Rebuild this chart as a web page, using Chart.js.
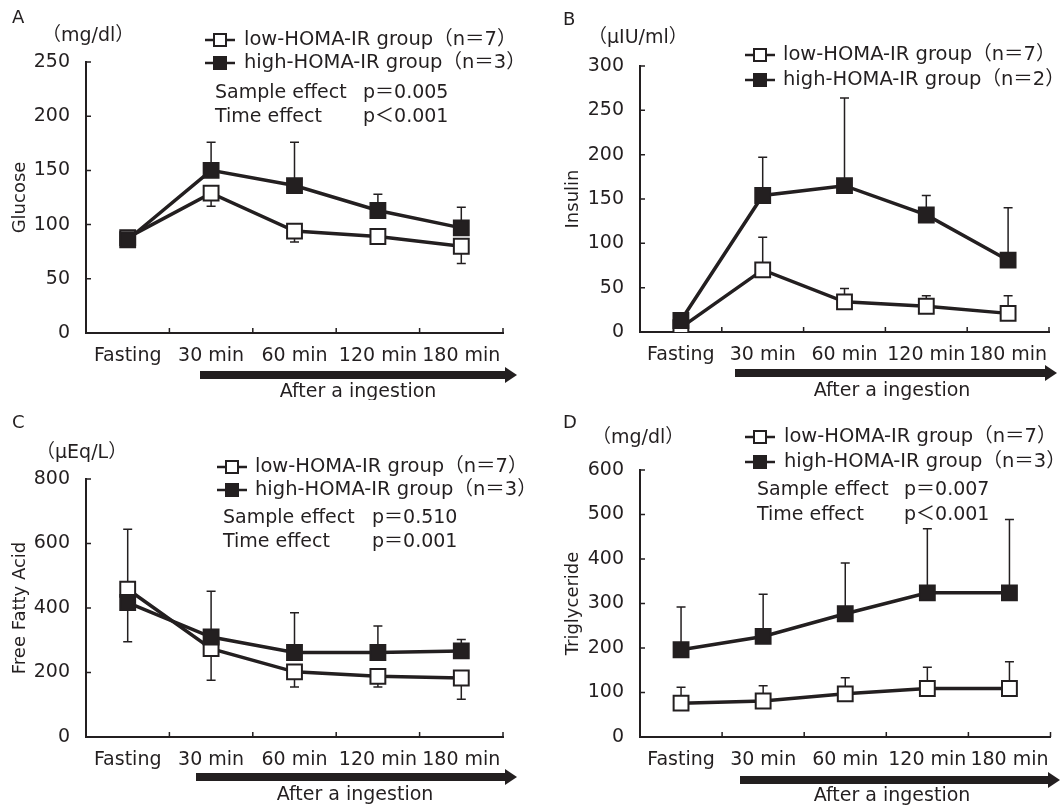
<!DOCTYPE html>
<html>
<head>
<meta charset="utf-8">
<script src="https://cdn.jsdelivr.net/npm/chart.js@4.4.1/dist/chart.umd.min.js"></script>
<style>
  body { margin: 0; background: #fff; width: 1063px; height: 807px; position: relative; overflow: hidden; }
  .panel { position: absolute; }
</style>
</head>
<body>
<div class="panel" style="left:0;top:0"><canvas id="chartA" width="530" height="400"></canvas></div>
<div class="panel" style="left:530px;top:0"><canvas id="chartB" width="533" height="400"></canvas></div>
<div class="panel" style="left:0;top:400px"><canvas id="chartC" width="530" height="407"></canvas></div>
<div class="panel" style="left:530px;top:400px"><canvas id="chartD" width="533" height="407"></canvas></div>
<script>
const timeLabels = ['Fasting', '30 min', '60 min', '120 min', '180 min'];

// A: glucose (mg/dl)
const glucoseTicks = [0, 50, 100, 150, 200, 250];
const glucoseLow = [88, 129, 94, 89, 80];
const glucoseLowErr = [-2, -12, -10, -5, -16];
const glucoseHigh = [86, 150, 136, 113, 97];
const glucoseHighErr = [3, 26, 40, 15, 19];

// B: insulin (uIU/ml)
const insulinTicks = [0, 50, 100, 150, 200, 250, 300];
const insulinLow = [5, 70, 34, 29, 21];
const insulinLowErr = [2, 37, 15, 12, 20];
const insulinHigh = [13, 154, 165, 132, 81];
const insulinHighErr = [3, 43, 99, 22, 59];

// C: free fatty acid (uEq/L)
const ffaTicks = [0, 200, 400, 600, 800];
const ffaLow = [458, 274, 202, 188, 183];
const ffaLowErr = [186, -98, -47, -33, -66];
const ffaHigh = [417, 310, 262, 262, 267];
const ffaHighErr = [-122, 142, 123, 82, 35];

// D: triglyceride (mg/dl)
const tgTicks = [0, 100, 200, 300, 400, 500, 600];
const tgLow = [76, 81, 97, 109, 109];
const tgLowErr = [36, 34, 36, 48, 60];
const tgHigh = [196, 226, 277, 324, 324];
const tgHighErr = [96, 95, 114, 144, 165];

const ink = '#231f20';
const fontFamily = '"DejaVu Sans", "Noto Sans CJK JP", sans-serif';

// error bars, drawn under the markers
const errorBars = {
  id: 'errorBars',
  beforeDatasetsDraw(chart) {
    const ctx = chart.ctx, y = chart.scales.y;
    ctx.save();
    ctx.strokeStyle = ink;
    ctx.lineWidth = 1.5;
    chart.data.datasets.forEach((ds, i) => {
      chart.getDatasetMeta(i).data.forEach((pt, j) => {
        const y1 = y.getPixelForValue(ds.data[j] + ds.err[j]);
        ctx.beginPath();
        ctx.moveTo(pt.x, pt.y);
        ctx.lineTo(pt.x, y1);
        ctx.moveTo(pt.x - 4.5, y1);
        ctx.lineTo(pt.x + 4.5, y1);
        ctx.stroke();
      });
    });
    ctx.restore();
  }
};

// tick marks pointing into the plot
const innerTicks = {
  id: 'innerTicks',
  beforeDatasetsDraw(chart) {
    const { ctx, chartArea: a, scales: { x, y } } = chart;
    ctx.save();
    ctx.strokeStyle = ink;
    ctx.lineWidth = 1.5;
    ctx.beginPath();
    y.ticks.forEach(t => {
      const py = y.getPixelForValue(t.value);
      ctx.moveTo(a.left, py);
      ctx.lineTo(a.left + 5, py);
    });
    const n = x.ticks.length;
    for (let i = 1; i <= n; i++) {
      const px = i < n ? (x.getPixelForValue(i - 1) + x.getPixelForValue(i)) / 2 : a.right;
      ctx.moveTo(px, a.bottom);
      ctx.lineTo(px, a.bottom - 5);
    }
    ctx.stroke();
    ctx.restore();
  }
};

// letter, unit, legend, p-values, arrow
const annot = {
  id: 'annot',
  afterDraw(chart, args, o) {
    const ctx = chart.ctx;
    ctx.save();
    ctx.fillStyle = ink;
    ctx.strokeStyle = ink;
    ctx.textBaseline = 'middle';
    ctx.font = '18px ' + fontFamily;
    ctx.fillText(o.letter, o.letterX, o.letterY);
    ctx.font = '19px ' + fontFamily;
    ctx.fillText(o.unit, o.unitX, o.unitY);

    ctx.font = '19.5px ' + fontFamily;
    chart.data.datasets.forEach((ds, i) => {
      const cy = o.legendY[i];
      ctx.lineWidth = 2.5;
      ctx.beginPath();
      ctx.moveTo(o.legendX - 15, cy);
      ctx.lineTo(o.legendX + 15, cy);
      ctx.stroke();
      ctx.fillStyle = ds.pointBackgroundColor;
      ctx.fillRect(o.legendX - 6, cy - 6, 12, 12);
      ctx.lineWidth = 2;
      ctx.strokeRect(o.legendX - 6, cy - 6, 12, 12);
      ctx.fillStyle = ink;
      ctx.fillText(ds.label, o.legendTextX, cy);
    });

    ctx.font = '19px ' + fontFamily;
    (o.effects || []).forEach((e, i) => {
      ctx.fillText(e[0], o.effectX, o.effectY[i]);
      ctx.fillText(e[1], o.pX, o.effectY[i]);
    });

    // arrow
    const head = 11;
    ctx.fillRect(o.arrowX1, o.arrowY - 4, o.arrowX2 - head - o.arrowX1, 8);
    ctx.beginPath();
    ctx.moveTo(o.arrowX2 - head - 1, o.arrowY - 8);
    ctx.lineTo(o.arrowX2, o.arrowY);
    ctx.lineTo(o.arrowX2 - head - 1, o.arrowY + 8);
    ctx.closePath();
    ctx.fill();

    ctx.textAlign = 'center';
    ctx.fillText('After a ingestion', o.afterX, o.afterY);
    ctx.restore();
  }
};

function makePanel(id, p) {
  return new Chart(document.getElementById(id), {
    type: 'line',
    data: {
      labels: timeLabels,
      datasets: [
        {
          label: 'low-HOMA-IR group（n＝' + p.nLow + '）',
          data: p.low, err: p.lowErr,
          borderColor: ink, borderWidth: 3.5,
          pointStyle: 'rect', pointRadius: 10.5, pointBorderWidth: 2,
          pointBorderColor: ink, pointBackgroundColor: '#ffffff',
          tension: 0, order: 2
        },
        {
          label: 'high-HOMA-IR group（n＝' + p.nHigh + '）',
          data: p.high, err: p.highErr,
          borderColor: ink, borderWidth: 3.5,
          pointStyle: 'rect', pointRadius: 10.5, pointBorderWidth: 2,
          pointBorderColor: ink, pointBackgroundColor: ink,
          tension: 0, order: 1
        }
      ]
    },
    options: {
      responsive: false,
      animation: false,
      layout: { padding: p.pad },
      plugins: {
        legend: { display: false },
        tooltip: { enabled: false },
        annot: p.annot
      },
      scales: {
        x: {
          offset: true,
          grid: { display: false },
          border: { color: ink, width: 2 },
          ticks: { color: ink, font: { family: fontFamily, size: 19 }, padding: 4, maxRotation: 0, autoSkip: false },
          afterFit: s => { s.height = 60; }
        },
        y: {
          min: p.ticks[0],
          max: p.ticks[p.ticks.length - 1],
          grid: { display: false },
          border: { color: ink, width: 2 },
          ticks: { color: ink, font: { family: fontFamily, size: 19 }, padding: 8, stepSize: p.ticks[1] - p.ticks[0] },
          title: { display: true, text: p.yTitle, color: ink, font: { family: fontFamily, size: 18, lineHeight: 1 }, padding: 0 },
          afterFit: s => { s.width = p.yWidth; }
        }
      }
    },
    plugins: [errorBars, innerTicks, annot]
  });
}

makePanel('chartA', {
  low: glucoseLow, lowErr: glucoseLowErr, high: glucoseHigh, highErr: glucoseHighErr,
  ticks: glucoseTicks, yTitle: 'Glucose', nLow: 7, nHigh: 3,
  pad: { left: 11, right: 27, top: 62, bottom: 7 }, yWidth: 75,
  annot: {
    letter: 'A', letterX: 12, letterY: 18, unit: '（mg/dl）', unitX: 42, unitY: 36,
    legendX: 220, legendY: [40, 63], legendTextX: 244,
    effects: [['Sample effect', 'p＝0.005'], ['Time effect', 'p＜0.001']],
    effectX: 215, pX: 363, effectY: [93, 117],
    arrowX1: 200, arrowX2: 517, arrowY: 375, afterX: 358, afterY: 392
  }
});

makePanel('chartB', {
  low: insulinLow, lowErr: insulinLowErr, high: insulinHigh, highErr: insulinHighErr,
  ticks: insulinTicks, yTitle: 'Insulin', nLow: 7, nHigh: 2,
  pad: { left: 34, right: 14, top: 66, bottom: 8 }, yWidth: 76,
  annot: {
    letter: 'B', letterX: 33, letterY: 20, unit: '（μIU/ml）', unitX: 58, unitY: 38,
    legendX: 230, legendY: [55, 80], legendTextX: 253,
    arrowX1: 205, arrowX2: 527, arrowY: 373, afterX: 362, afterY: 391
  }
});

makePanel('chartC', {
  low: ffaLow, lowErr: ffaLowErr, high: ffaHigh, highErr: ffaHighErr,
  ticks: ffaTicks, yTitle: 'Free Fatty Acid', nLow: 7, nHigh: 3,
  pad: { left: 11, right: 27, top: 79, bottom: 10 }, yWidth: 75,
  annot: {
    letter: 'C', letterX: 12, letterY: 23, unit: '（μEq/L）', unitX: 36, unitY: 53,
    legendX: 232, legendY: [67, 90], legendTextX: 255,
    effects: [['Sample effect', 'p＝0.510'], ['Time effect', 'p＝0.001']],
    effectX: 223, pX: 372, effectY: [118, 142],
    arrowX1: 196, arrowX2: 517, arrowY: 377, afterX: 355, afterY: 395
  }
});

makePanel('chartD', {
  low: tgLow, lowErr: tgLowErr, high: tgHigh, highErr: tgHighErr,
  ticks: tgTicks, yTitle: 'Triglyceride', nLow: 7, nHigh: 3,
  pad: { left: 34, right: 8, top: 70, bottom: 10 }, yWidth: 76,
  annot: {
    letter: 'D', letterX: 33, letterY: 23, unit: '（mg/dl）', unitX: 62, unitY: 38,
    legendX: 230, legendY: [37, 62], legendTextX: 254,
    effects: [['Sample effect', 'p＝0.007'], ['Time effect', 'p＜0.001']],
    effectX: 227, pX: 374, effectY: [90, 115],
    arrowX1: 210, arrowX2: 530, arrowY: 380, afterX: 362, afterY: 396
  }
});
</script>
</body>
</html>
